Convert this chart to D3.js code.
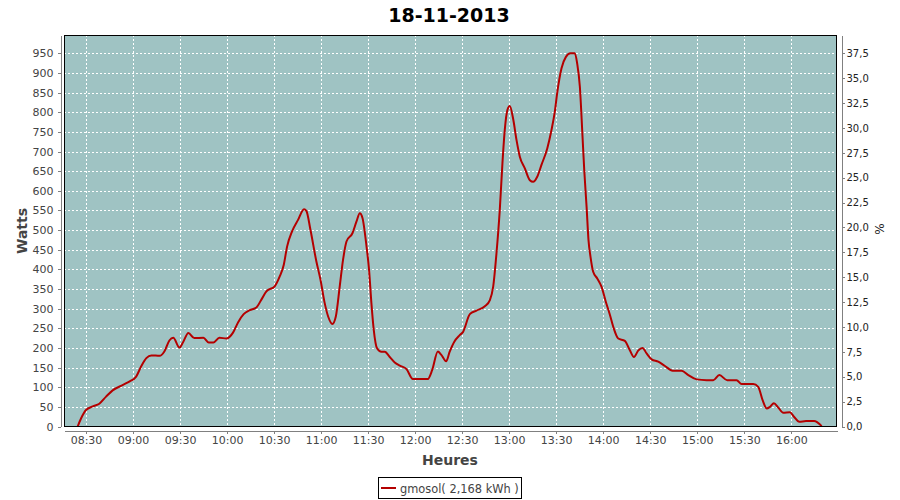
<!DOCTYPE html>
<html>
<head>
<meta charset="utf-8">
<script src="https://cdn.jsdelivr.net/npm/d3@7"></script>
<style>
  html, body { margin: 0; padding: 0; background: #ffffff; }
  svg { display: block; }
</style>
</head>
<body>
<svg id="chart" width="900" height="500"></svg>
<script>
// ---- data ----
const chartTitle = "18-11-2013";
const seriesName = "gmosol( 2,168 kWh )";
const times = [
  "08:24:42","08:26:54","08:30:00","08:34:18","08:38:30","08:42:48","08:47:00","08:53:36","08:57:54","09:02:00",
  "09:05:18","09:08:30","09:11:42","09:17:00","09:20:00","09:23:12","09:25:42","09:29:36","09:32:06","09:35:18",
  "09:39:06","09:44:54","09:48:18","09:51:18","09:55:06","09:59:36","10:03:48","10:07:00","10:10:36","10:14:30",
  "10:18:42","10:21:54","10:25:06","10:30:24","10:33:36","10:36:12","10:38:18","10:41:30","10:45:18","10:49:06",
  "10:50:36","10:53:12","10:57:00","10:59:36","11:02:18","11:04:30","11:07:12","11:09:24","11:11:54","11:14:00",
  "11:16:12","11:20:00","11:22:36","11:24:42","11:26:24","11:29:00","11:30:36","11:32:06","11:33:36","11:35:42",
  "11:38:30","11:40:36","11:43:48","11:47:00","11:50:12","11:54:30","11:58:30","12:02:48","12:08:06","12:10:54",
  "12:14:30","12:16:36","12:19:48","12:22:00","12:25:00","12:28:18","12:30:36","12:34:54","12:39:06","12:44:30",
  "12:47:42","12:49:48","12:51:54","12:54:00","12:55:42","12:57:12","12:58:54","13:00:24","13:02:30","13:04:42",
  "13:06:48","13:10:00","13:13:12","13:15:18","13:17:54","13:20:36","13:24:18","13:27:00","13:29:06","13:30:36",
  "13:33:24","13:36:12","13:39:06","13:41:54","13:43:24","13:45:06","13:46:48","13:47:54","13:49:24","13:50:36",
  "13:51:54","13:53:36","13:56:12","13:58:54","14:01:42","14:04:18","14:06:24","14:09:36","14:13:48","14:17:00",
  "14:19:36","14:22:18","14:25:06","14:27:42","14:30:54","14:35:06","14:39:24","14:44:18","14:50:00","14:54:18",
  "14:59:36","15:06:00","15:10:12","15:14:06","15:19:06","15:25:06","15:28:18","15:35:42","15:38:54","15:41:42",
  "15:44:18","15:46:24","15:48:54","15:51:42","15:54:54","15:59:06","16:01:42","16:05:06","16:09:24","16:14:30",
  "16:19:24"
];
const watts = [
  0,21,42,51,58,76,92,106,115,127,
  154,174,181,180,191,219,226,201,216,238,
  225,226,214,214,226,224,239,265,286,296,
  303,323,344,357,382,412,458,497,526,553,
  549,501,420,374,314,280,261,280,357,424,
  471,492,522,543,531,458,399,314,246,199,
  190,190,177,163,155,146,121,121,121,144,
  191,183,166,190,216,232,241,286,295,306,
  322,356,441,551,670,755,806,816,784,729,
  687,657,627,623,636,666,708,755,801,848,
  912,941,950,950,924,865,738,653,559,475,
  432,394,377,356,317,284,254,224,218,194,
  177,193,200,186,171,165,154,142,142,131,
  120,118,118,131,118,118,108,108,101,67,
  46,50,59,48,35,36,25,12,14,14,
  1
];
const xDomain = ["08:15:58", "16:29:10"];
const wattsMax = 996.7;
const pctPerWatt = 37.5 / 950;
const wattTicks = d3.range(0, 951, 50);
const pctTicks = d3.range(0, 38, 2.5);

// ---- layout ----
const svg = d3.select("#chart");
const plot = { left: 64, right: 837, top: 35, bottom: 426.5 };
const parse = d3.timeParse("%H:%M:%S");
const data = times.map((t, i) => ({ t: parse(t), v: watts[i] }));

const x = d3.scaleTime().domain(xDomain.map(parse)).range([plot.left, plot.right]);
const y = d3.scaleLinear().domain([0, wattsMax]).range([plot.bottom, plot.top]);
const y2 = d3.scaleLinear().domain([0, wattsMax * pctPerWatt]).range([plot.bottom, plot.top]);
const xTicks = d3.timeMinute.every(30).range(x.domain()[0], x.domain()[1]);

const font = "'DejaVu Sans', sans-serif";

// plot background
svg.append("rect")
  .attr("x", plot.left).attr("y", plot.top)
  .attr("width", plot.right - plot.left).attr("height", plot.bottom - plot.top)
  .attr("fill", "#9fc3c3");

// gridlines
const grid = svg.append("g").attr("stroke", "#ffffff").attr("stroke-width", 1)
  .attr("stroke-dasharray", "2,2").attr("shape-rendering", "crispEdges");
grid.selectAll("line.h").data(wattTicks.filter(d => d > 0)).join("line")
  .attr("x1", plot.left).attr("x2", plot.right)
  .attr("y1", d => Math.round(y(d)) + 0.5).attr("y2", d => Math.round(y(d)) + 0.5);
grid.selectAll("line.v").data(xTicks).join("line")
  .attr("y1", plot.top).attr("y2", plot.bottom)
  .attr("x1", d => Math.round(x(d)) + 0.5).attr("x2", d => Math.round(x(d)) + 0.5);

// line
const line = d3.line().x(d => x(d.t)).y(d => y(d.v)).curve(d3.curveMonotoneX);
svg.append("path").datum(data)
  .attr("d", line).attr("fill", "none")
  .attr("stroke", "#b40000").attr("stroke-width", 2).attr("stroke-linejoin", "round");

// plot outline
svg.append("rect")
  .attr("x", plot.left + 0.5).attr("y", plot.top + 0.5)
  .attr("width", plot.right - plot.left - 1).attr("height", plot.bottom - plot.top - 0.5)
  .attr("fill", "none").attr("stroke", "#000000").attr("stroke-width", 1)
  .attr("shape-rendering", "crispEdges");

function styleAxis(g, color, size) {
  g.selectAll(".domain").attr("stroke", "#808080");
  g.selectAll(".tick line").attr("stroke", "#808080");
  g.selectAll(".tick text").attr("fill", color).style("font-family", font).style("font-size", size);
  g.attr("shape-rendering", "crispEdges");
}

// left axis
const gL = svg.append("g").attr("transform", "translate(60.5,0)")
  .call(d3.axisLeft(y).tickValues(wattTicks).tickSize(3).tickSizeOuter(0).tickPadding(4));
styleAxis(gL, "#444444", "11px");

// right axis
const fmtPct = v => d3.format(".1f")(v).replace(".", ",");
const gR = svg.append("g").attr("transform", "translate(841.5,0)")
  .call(d3.axisRight(y2).tickValues(pctTicks).tickSize(3).tickSizeOuter(0).tickPadding(2).tickFormat(fmtPct));
styleAxis(gR, "#222222", "10px");

// bottom axis
const gB = svg.append("g").attr("transform", "translate(0,430.5)")
  .call(d3.axisBottom(x).tickValues(xTicks).tickSize(3).tickSizeOuter(0).tickPadding(3)
    .tickFormat(d3.timeFormat("%H:%M")));
styleAxis(gB, "#444444", "11px");

// title
svg.append("text").attr("x", 449).attr("y", 22).attr("text-anchor", "middle")
  .style("font-family", font).style("font-weight", "bold").style("font-size", "19px")
  .attr("fill", "#000000").text(chartTitle);

// axis titles
svg.append("text").attr("transform", "translate(27,231) rotate(-90)").attr("text-anchor", "middle")
  .style("font-family", font).style("font-weight", "bold").style("font-size", "14px")
  .attr("fill", "#444444").text("Watts");
svg.append("text").attr("transform", "translate(884,229) rotate(-90)").attr("text-anchor", "middle")
  .style("font-family", font).style("font-size", "12px")
  .attr("fill", "#222222").text("%");
svg.append("text").attr("x", 450).attr("y", 465).attr("text-anchor", "middle")
  .style("font-family", font).style("font-weight", "bold").style("font-size", "14px")
  .attr("fill", "#444444").text("Heures");

// legend
const lg = svg.append("g");
lg.append("rect").attr("x", 378.5).attr("y", 477.5).attr("width", 143).attr("height", 21)
  .attr("fill", "#ffffff").attr("stroke", "#000000").attr("stroke-width", 1)
  .attr("shape-rendering", "crispEdges");
lg.append("line").attr("x1", 381).attr("x2", 396).attr("y1", 488).attr("y2", 488)
  .attr("stroke", "#b40000").attr("stroke-width", 2);
lg.append("text").attr("x", 400).attr("y", 492.5)
  .style("font-family", font).style("font-size", "11.4px")
  .attr("fill", "#444444").text(seriesName);
</script>
</body>
</html>
